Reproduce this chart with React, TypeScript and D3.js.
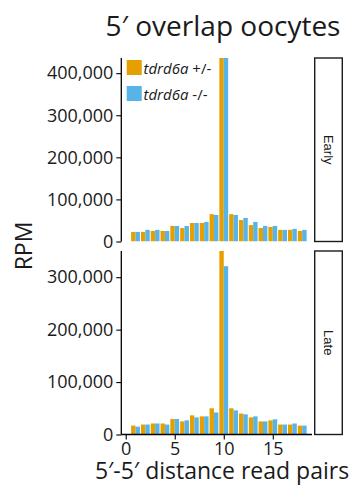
import React, { useRef, useEffect } from 'react';
import * as d3 from 'd3';

const distances = [1, 2, 3, 4, 5, 6, 7, 8, 9, 10, 11, 12, 13, 14, 15, 16, 17, 18];
const groups = ['tdrd6a +/-', 'tdrd6a -/-'];
const colors = ['#E69F00', '#56B4E9'];

const earlyHet = [22800, 22800, 25000, 25000, 37000, 32000, 44000, 44000, 65000, 436000, 65000, 51000, 39000, 32000, 34600, 27600, 27600, 25000];
const earlyMut = [22800, 27600, 27600, 25000, 37000, 37000, 44000, 46500, 63000, 436000, 63000, 56000, 46500, 37000, 37000, 27600, 30000, 27600];
const lateHet = [17000, 19000, 21000, 21000, 29500, 25000, 36500, 34600, 50000, 350000, 50000, 40000, 32700, 25000, 27000, 19000, 19000, 17000];
const lateMut = [15000, 19000, 21000, 19000, 29500, 27000, 32700, 34600, 42000, 321000, 46000, 38500, 34600, 25000, 29000, 19000, 21000, 17000];

const earlyTicks = [0, 100000, 200000, 300000, 400000];
const lateTicks = [0, 100000, 200000, 300000];
const xTicks = [0, 5, 10, 15];

const panels = [
  { name: 'Early', series: [earlyHet, earlyMut], ticks: earlyTicks, top: 58, bottom: 241.5 },
  { name: 'Late', series: [lateHet, lateMut], ticks: lateTicks, top: 251, bottom: 434.5 },
];

const FONT = "'Open Sans', sans-serif";

const App = () => {
  const svgRef = useRef(null);

  useEffect(() => {
    const width = 355;
    const height = 485;
    const left = 121.3;
    const right = 312;

    const svg = d3.select(svgRef.current).attr('width', width).attr('height', height);
    svg.selectAll('*').remove();

    const x = d3.scaleLinear().domain([-0.45, 19]).range([left, right]);
    const bw = 0.45;

    panels.forEach((p, pi) => {
      const maxV = d3.max(p.series.flat());
      const y = d3.scaleLinear().domain([0, maxV]).range([p.bottom, p.top]);

      const clipId = 'clip' + pi;
      svg.append('clipPath').attr('id', clipId)
        .append('rect').attr('x', left).attr('y', p.top).attr('width', right - left).attr('height', p.bottom - p.top);

      const g = svg.append('g').attr('clip-path', `url(#${clipId})`);
      p.series.forEach((vals, si) => {
        g.selectAll(null)
          .data(vals)
          .enter()
          .append('rect')
          .attr('x', (d, i) => x(distances[i] - 0.45 + si * bw))
          .attr('width', x(bw) - x(0))
          .attr('y', d => y(d))
          .attr('height', d => p.bottom - y(d))
          .attr('fill', colors[si]);
      });

      const yAxis = svg.append('g')
        .attr('transform', `translate(${left},0)`)
        .call(d3.axisLeft(y).tickValues(p.ticks).tickFormat(d3.format(',')).tickSize(5).tickPadding(3));
      yAxis.select('.domain').attr('stroke', '#000').attr('stroke-width', 1.3).attr('d', `M0,${p.top}V${p.bottom}`);
      yAxis.selectAll('.tick line').attr('stroke', '#000').attr('stroke-width', 1.1);
      yAxis.selectAll('.tick text').attr('fill', '#1a1a1a').style('font-family', FONT).style('font-size', '18px');

      // facet strip
      svg.append('rect')
        .attr('x', 314.7).attr('y', p.top)
        .attr('width', 27.6).attr('height', p.bottom - p.top)
        .attr('fill', '#fff').attr('stroke', '#1a1a1a').attr('stroke-width', 1.4);
      svg.append('text')
        .attr('transform', `translate(${314.7 + 13.8},${(p.top + p.bottom) / 2}) rotate(90)`)
        .attr('text-anchor', 'middle')
        .attr('dy', '0.35em')
        .style('font-family', "'Liberation Sans', Arial, sans-serif")
        .style('font-size', '13px')
        .attr('fill', '#1a1a1a')
        .text(p.name);
    });

    const xAxis = svg.append('g')
      .attr('transform', `translate(0,${panels[1].bottom})`)
      .call(d3.axisBottom(x).tickValues(xTicks).tickSize(5).tickPadding(3));
    xAxis.select('.domain').attr('stroke', '#000').attr('stroke-width', 1.3).attr('d', `M${left},0H${right}`);
    xAxis.selectAll('.tick line').attr('stroke', '#000').attr('stroke-width', 1.1);
    xAxis.selectAll('.tick text').attr('fill', '#1a1a1a').style('font-family', FONT).style('font-size', '18px');

    // legend
    const legend = svg.append('g');
    groups.forEach((name, i) => {
      const ly = 60 + i * 26;
      legend.append('rect').attr('x', 126.7).attr('y', ly).attr('width', 15).attr('height', 15).attr('fill', colors[i]);
      const t = legend.append('text').attr('x', 143.5).attr('y', ly + 14)
        .style('font-family', FONT).style('font-size', '15px').attr('fill', '#1a1a1a');
      const parts = name.split(' ');
      t.append('tspan').style('font-style', 'italic').text(parts[0]);
      t.append('tspan').text(' ' + parts[1]);
    });

    svg.append('text')
      .attr('x', 223).attr('y', 36)
      .attr('text-anchor', 'middle')
      .style('font-family', FONT).style('font-size', '28px').attr('fill', '#1a1a1a')
      .text('5′ overlap oocytes');

    svg.append('text')
      .attr('transform', `translate(32,246) rotate(-90)`)
      .attr('text-anchor', 'middle')
      .style('font-family', FONT).style('font-size', '23px').attr('fill', '#1a1a1a')
      .text('RPM');

    svg.append('text')
      .attr('x', 222).attr('y', 479)
      .attr('text-anchor', 'middle')
      .style('font-family', FONT).style('font-size', '23px').attr('fill', '#1a1a1a')
      .text('5′-5′ distance read pairs');
  }, []);

  return (
    <div style={{ position: 'absolute', left: 0, top: 0 }}>
      <svg ref={svgRef} style={{ display: 'block' }}></svg>
    </div>
  );
};

export default App;
